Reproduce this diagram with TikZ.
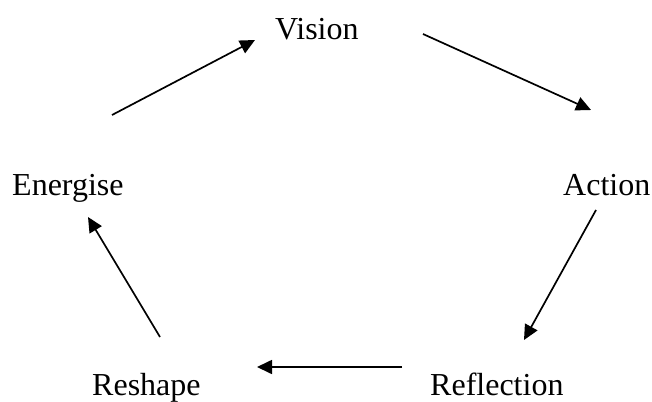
\documentclass[tikz,border=0pt]{standalone}
\usepackage{fontspec}
\setmainfont{Liberation Serif}
\usetikzlibrary{arrows.meta}

\tikzset{
  stage/.style={anchor=base west, inner sep=0pt, font=\fontsize{32}{38}\selectfont},
  cyclearrow/.style={line width=1.7pt, -{Triangle[length=15pt,width=14pt]}}
}

\begin{document}
\begin{tikzpicture}[x=1pt,y=-1pt]
  \useasboundingbox (0,0) rectangle (652,401);
  \node[stage] (vision) at (275,40) {Vision};
  \node[stage] (action) at (563,195) {Action};
  \node[stage] (reflection) at (430,395) {Reflection};
  \node[stage] (reshape) at (92,395) {Reshape};
  \node[stage] (energise) at (12,195) {Energise};
  % arrow ends
  \coordinate (energise-out) at (112,115);
  \coordinate (vision-in) at (255,40);
  \coordinate (vision-out) at (423,34);
  \coordinate (action-in) at (591,110);
  \coordinate (action-out) at (596,210);
  \coordinate (reflection-in) at (524,340);
  \coordinate (reflection-out) at (402,367);
  \coordinate (reshape-in) at (257,367);
  \coordinate (reshape-out) at (160,337);
  \coordinate (energise-in) at (88,217);
  \draw[cyclearrow] (energise-out) -- (vision-in);
  \draw[cyclearrow] (vision-out) -- (action-in);
  \draw[cyclearrow] (action-out) -- (reflection-in);
  \draw[cyclearrow] (reflection-out) -- (reshape-in);
  \draw[cyclearrow] (reshape-out) -- (energise-in);
\end{tikzpicture}
\end{document}
